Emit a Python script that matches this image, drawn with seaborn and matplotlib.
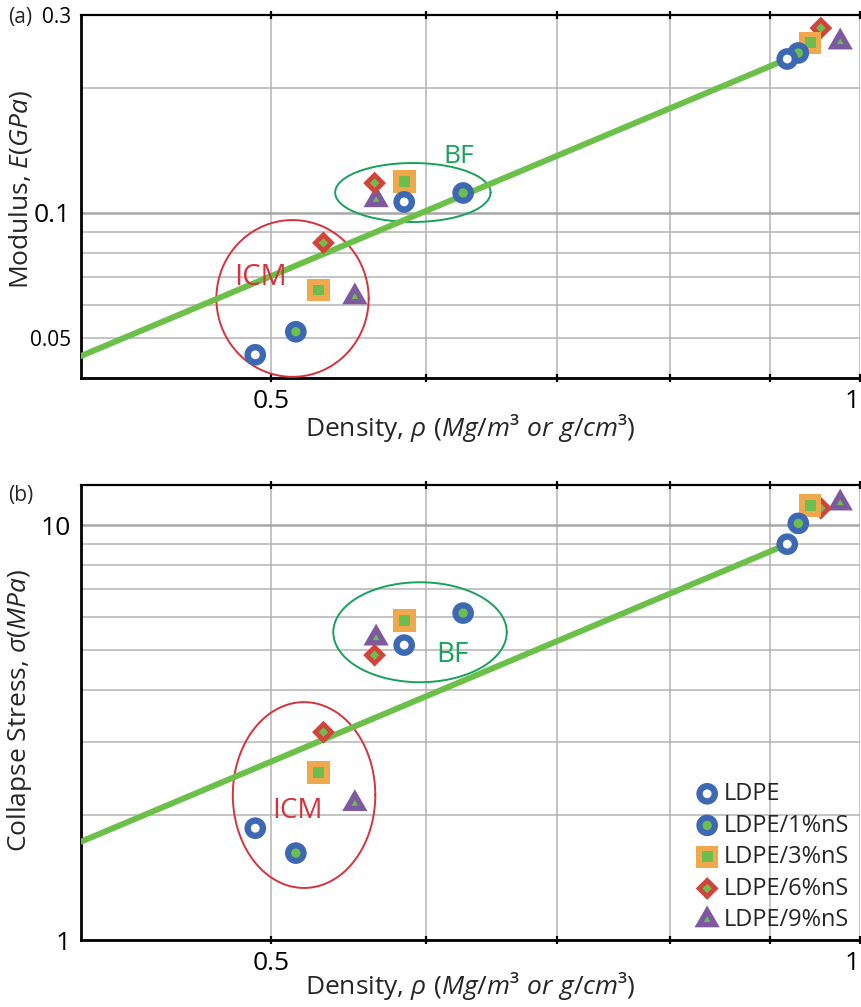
import numpy as np
import matplotlib
matplotlib.use("Agg")
import matplotlib.pyplot as plt
import seaborn as sns
from matplotlib.path import Path
from matplotlib.ticker import FixedLocator, FixedFormatter

# ---------------------------------------------------------------------------
# Data: each series has three samples -> [ICM foam, BF foam, solid]
# ---------------------------------------------------------------------------
series = ["LDPE", "LDPE/1%nS", "LDPE/3%nS", "LDPE/6%nS", "LDPE/9%nS"]

density_ldpe = [0.491, 0.585, 0.918]
density_1ns = [0.515, 0.627, 0.930]
density_3ns = [0.529, 0.585, 0.943]
density_6ns = [0.532, 0.565, 0.955]
density_9ns = [0.552, 0.566, 0.977]

modulus_ldpe = [0.0455, 0.1063, 0.235]
modulus_1ns = [0.0517, 0.1117, 0.243]
modulus_3ns = [0.0652, 0.119, 0.257]
modulus_6ns = [0.0847, 0.118, 0.279]
modulus_9ns = [0.0627, 0.1075, 0.258]

stress_ldpe = [1.86, 5.14, 9.0]
stress_1ns = [1.62, 6.14, 10.1]
stress_3ns = [2.53, 5.90, 11.17]
stress_6ns = [3.17, 4.86, 10.99]
stress_9ns = [2.13, 5.34, 11.3]

# Scaling-law guide lines (end points)
fit_density = [0.4, 0.918]
fit_modulus = [0.0452, 0.235]
fit_stress = [1.726, 9.0]

densities = [density_ldpe, density_1ns, density_3ns, density_6ns, density_9ns]
moduli = [modulus_ldpe, modulus_1ns, modulus_3ns, modulus_6ns, modulus_9ns]
stresses = [stress_ldpe, stress_1ns, stress_3ns, stress_6ns, stress_9ns]

# ---------------------------------------------------------------------------
# Style
# ---------------------------------------------------------------------------
sns.set_style("white")
plt.rcParams["font.family"] = ["Open Sans", "DejaVu Sans"]
plt.rcParams["mathtext.fontset"] = "custom"
plt.rcParams["mathtext.rm"] = "Open Sans"
plt.rcParams["mathtext.it"] = "Open Sans:italic"
plt.rcParams["mathtext.bf"] = "Open Sans:bold"

BLUE = "#3D68B4"
GREEN = "#6CBF4E"
ORANGE = "#EFA84C"
RED = "#D2433B"
PURPLE = "#7D59A0"
LINE_GREEN = "#6CC04A"
ICM_RED = "#D7323C"
BF_GREEN = "#17A25A"
GRID = "#B4B4B4"

LABEL_SIZE = 19

tri = Path([(0, 1), (-0.866, -0.5), (0.866, -0.5), (0, 1)],
           [Path.MOVETO, Path.LINETO, Path.LINETO, Path.CLOSEPOLY])

# (marker, outer colour, outer size, inner colour, inner size)
marker_specs = [
    ("o", BLUE, 243, "white", 40),
    ("o", BLUE, 243, GREEN, 45),
    ("s", ORANGE, 266, GREEN, 62),
    ("D", RED, 135, GREEN, 24),
    (tri, PURPLE, 440, GREEN, 30),
]

fig = plt.figure(figsize=(8.61, 10.07), dpi=100)
W, H = 861.0, 1007.0
ax1 = fig.add_axes([81 / W, 1 - 378 / H, 779 / W, 363 / H])
ax2 = fig.add_axes([81 / W, 1 - 940 / H, 779 / W, 455 / H])


def ellipse(ax, cx, cy, rx, ry, color):
    t = np.linspace(0, 2 * np.pi, 300)
    lx = np.log10(cx) + rx * np.cos(t)
    ly = np.log10(cy) + ry * np.sin(t)
    ax.plot(10 ** lx, 10 ** ly, color=color, lw=1.4, zorder=3)


def draw_points(ax, yvals):
    handles = []
    for i in reversed(range(len(series))):
        mk, oc, os_, ic, is_ = marker_specs[i]
        z = 5 + (len(series) - i) * 2
        sns.scatterplot(x=densities[i], y=yvals[i], ax=ax, marker=mk,
                        s=os_, color=oc, edgecolor="none", linewidth=0,
                        zorder=z, clip_on=False, legend=False)
        outer = ax.collections[-1]
        sns.scatterplot(x=densities[i], y=yvals[i], ax=ax, marker=mk,
                        s=is_, color=ic, edgecolor="none", linewidth=0,
                        zorder=z + 1, clip_on=False, legend=False)
        inner = ax.collections[-1]
        handles.append((outer, inner))
    return list(reversed(handles))


def style_axes(ax, ymaj, ymaj_lab, ymin, ymin_lab, ylim):
    ax.set_xscale("log")
    ax.set_yscale("log")
    ax.set_xlim(0.4, 1.0)
    ax.set_ylim(*ylim)

    ax.xaxis.set_major_locator(FixedLocator([0.5, 1.0]))
    ax.xaxis.set_major_formatter(FixedFormatter(["0.5", "1"]))
    ax.xaxis.set_minor_locator(FixedLocator([0.6, 0.7, 0.8, 0.9]))
    ax.xaxis.set_minor_formatter(FixedFormatter(["", "", "", ""]))

    ax.yaxis.set_major_locator(FixedLocator(ymaj))
    ax.yaxis.set_major_formatter(FixedFormatter(ymaj_lab))
    ax.yaxis.set_minor_locator(FixedLocator(ymin))
    ax.yaxis.set_minor_formatter(FixedFormatter(ymin_lab))

    ax.grid(which="minor", axis="both", color=GRID, lw=1.1, zorder=0)
    ax.grid(which="major", axis="x", color=GRID, lw=1.1, zorder=0)
    ax.grid(which="major", axis="y", color="#A6A6A6", lw=1.8, zorder=0)
    ax.set_axisbelow(True)

    ax.tick_params(axis="y", which="major", direction="inout", length=11,
                   width=1.6, labelsize=19, pad=2, colors="black")
    ax.tick_params(axis="y", which="minor", direction="inout", length=6,
                   width=1.6, labelsize=15, pad=4, colors="black")
    ax.tick_params(axis="x", which="both", direction="inout", length=6,
                   width=1.6, labelsize=19, pad=5, top=True, bottom=True,
                   colors="black")

    # keep the "1" label inside the canvas
    ax.xaxis.get_major_ticks()[1].label1.set_horizontalalignment("right")

    for side in ("left", "bottom"):
        ax.spines[side].set_linewidth(2.0)
        ax.spines[side].set_color("black")
    ax.spines["top"].set_linewidth(1.6)
    ax.spines["top"].set_color("black")
    ax.spines["right"].set_visible(False)

    ax.set_xlabel(r"Density, $\mathit{\rho\ (Mg/m³\ or\ g/cm³)}$",
                  fontsize=LABEL_SIZE)


# ---------------------------- (a) modulus ----------------------------------
sns.lineplot(x=fit_density, y=fit_modulus, ax=ax1, color=LINE_GREEN, lw=4.3,
             zorder=4, legend=False)
ellipse(ax1, 0.513, 0.0622, 0.0389, 0.189, ICM_RED)
ellipse(ax1, 0.591, 0.112, 0.0397, 0.0711, BF_GREEN)
draw_points(ax1, moduli)
ax1.text(0.494, 0.0671, "ICM", color=ICM_RED, fontsize=21, ha="center",
         va="baseline", zorder=20)
ax1.text(0.624, 0.132, "BF", color=BF_GREEN, fontsize=19, ha="center",
         va="baseline", zorder=20)
style_axes(ax1, [0.1], ["0.1"],
           [0.04, 0.05, 0.06, 0.07, 0.08, 0.09, 0.2, 0.3],
           ["", "0.05", "", "", "", "", "", "0.3"], (0.04, 0.3))
ax1.set_ylabel(r"Modulus, $\mathit{E(GPa)}$", fontsize=LABEL_SIZE)
ax1.yaxis.set_label_coords(-0.060, 0.518)
ax1.xaxis.set_label_coords(0.5, -0.095)

# ---------------------------- (b) collapse stress ---------------------------
sns.lineplot(x=fit_density, y=fit_stress, ax=ax2, color=LINE_GREEN, lw=4.3,
             zorder=4, legend=False)
ellipse(ax2, 0.520, 2.236, 0.0364, 0.224, ICM_RED)
ellipse(ax2, 0.596, 5.52, 0.0443, 0.1205, BF_GREEN)
handles = draw_points(ax2, stresses)
ax2.text(0.516, 1.972, "ICM", color=ICM_RED, fontsize=20, ha="center",
         va="baseline", zorder=20)
ax2.text(0.619, 4.68, "BF", color=BF_GREEN, fontsize=20, ha="center",
         va="baseline", zorder=20)
style_axes(ax2, [1, 10], ["1", "10"],
           [2, 3, 4, 5, 6, 7, 8, 9],
           [""] * 8, (1, 12.5))
ax2.set_ylabel(r"Collapse Stress, $\mathit{\sigma(MPa)}$", fontsize=LABEL_SIZE)
ax2.yaxis.set_label_coords(-0.060, 0.505)
ax2.xaxis.set_label_coords(0.5, -0.066)

leg = ax2.legend(handles, series, loc="upper left",
                 bbox_to_anchor=(693 / W, 1 - 782 / H),
                 bbox_transform=fig.transFigure, frameon=False, fontsize=17,
                 borderpad=0, borderaxespad=0, handletextpad=0.12,
                 labelspacing=0.32, handlelength=1.2, scatterpoints=1)
leg.set_zorder(30)

fig.text(8 / W, 1 - 18 / H, "(a)", fontsize=15, ha="left", va="center")
fig.text(8 / W, 1 - 496 / H, "(b)", fontsize=15, ha="left", va="center")

fig.savefig("out.png", dpi=100)
